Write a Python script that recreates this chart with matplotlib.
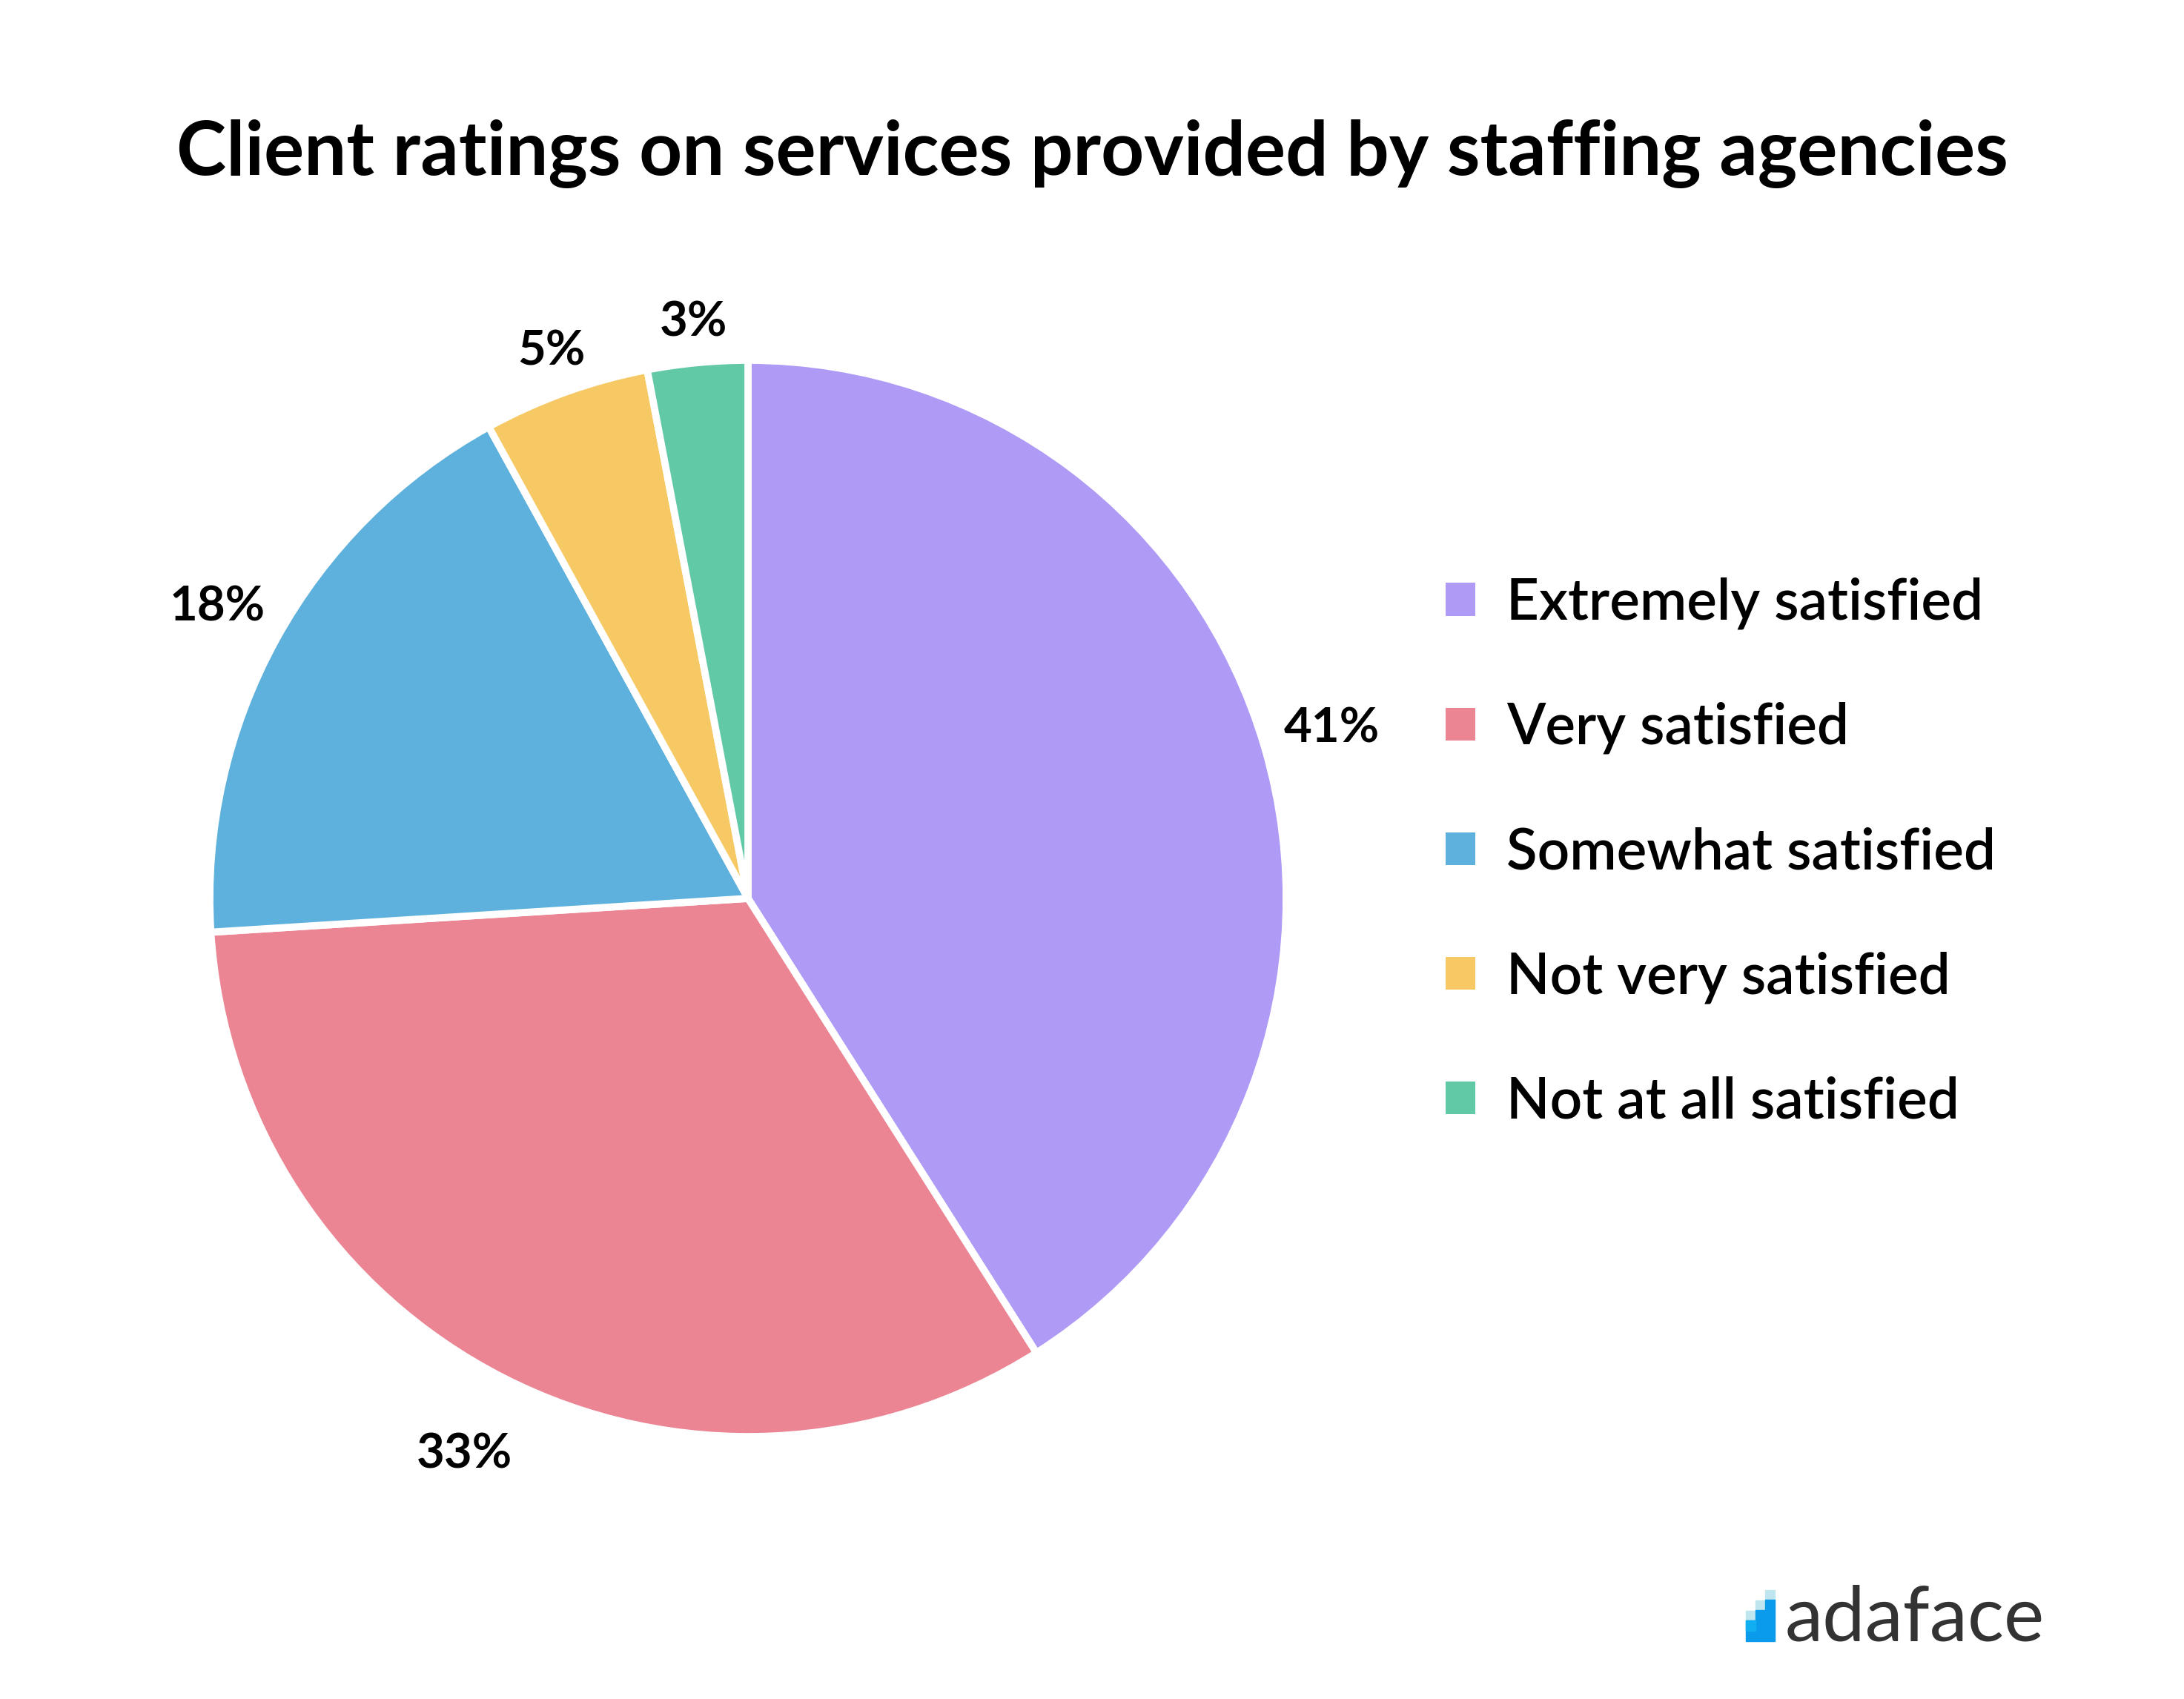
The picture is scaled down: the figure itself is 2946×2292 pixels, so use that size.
import matplotlib
matplotlib.use("Agg")
import numpy as np
import matplotlib.pyplot as plt
from matplotlib.patches import Rectangle

categories = ["Extremely satisfied", "Very satisfied", "Somewhat satisfied",
              "Not very satisfied", "Not at all satisfied"]
values = [41, 33, 18, 5, 3]
colors = ["#AF9BF6", "#EB8593", "#5EB1DC", "#F6C964", "#62C9A6"]
title = "Client ratings on services provided by staffing agencies"

# label distances (style), in units of the pie radius
label_dist = [1.13, 1.16, 1.125, 1.08, 1.075]

W, H = 2946, 2292
fig = plt.figure(figsize=(W / 100, H / 100), dpi=100)
fig.patch.set_facecolor("white")

FONT = ["Lato", "DejaVu Sans"]

cx, cy, r = 1009, 1212, 726
ax = fig.add_axes([(cx - r) / W, (H - cy - r) / H, 2 * r / W, 2 * r / H])
wedges, texts = ax.pie(values, colors=colors, startangle=90, counterclock=False,
                       labels=[f"{v}%" for v in values], labeldistance=1.12,
                       wedgeprops=dict(edgecolor="white", linewidth=7, joinstyle="round"),
                       textprops=dict(fontsize=47, fontweight="bold", family=FONT, color="black"))
for w, t, d in zip(wedges, texts, label_dist):
    ang = np.deg2rad((w.theta1 + w.theta2) / 2)
    t.set_position((d * np.cos(ang), d * np.sin(ang)))
    t.set_ha("center")
    t.set_va("center")
ax.set_xlim(-1, 1)
ax.set_ylim(-1, 1)
ax.set_aspect("equal")
ax.axis("off")

fig.text(0.5, (H - 207) / H, title, ha="center", va="center",
         fontsize=73, fontweight="bold", family=FONT, color="black")

leg = fig.legend(wedges, categories, loc="center left",
                 bbox_to_anchor=(1912 / W, (H - 1150) / H),
                 frameon=False, handlelength=0.52, handleheight=0.52,
                 handletextpad=0.55, labelspacing=1.28, borderpad=0,
                 prop=dict(family=FONT, size=55, weight="semibold"))
for h in leg.legend_handles:
    h.set_edgecolor("none")

# adaface logo
fig.text(2408 / W, (H - 2214) / H, "adaface", ha="left", va="baseline",
         fontsize=74, family=FONT, color="#333333")
s = 13
cols = [(2355, 2173), (2368, 2159), (2381, 2145)]
for x0, ytop in cols:
    fig.patches.append(Rectangle((x0 / W, (H - ytop - s) / H), s / W, s / H,
                                 transform=fig.transFigure, color="#BFE6EE", zorder=3))
    fig.patches.append(Rectangle((x0 / W, (H - 2214) / H), s / W, (2214 - ytop - s) / H,
                                 transform=fig.transFigure, color="#0A9BEC", zorder=3))
fig.patches.append(Rectangle((2355 / W, (H - 2200) / H), s / W, 14 / H,
                             transform=fig.transFigure, color="#12AEF2", zorder=4))

fig.savefig("out.png", dpi=100, facecolor="white")
